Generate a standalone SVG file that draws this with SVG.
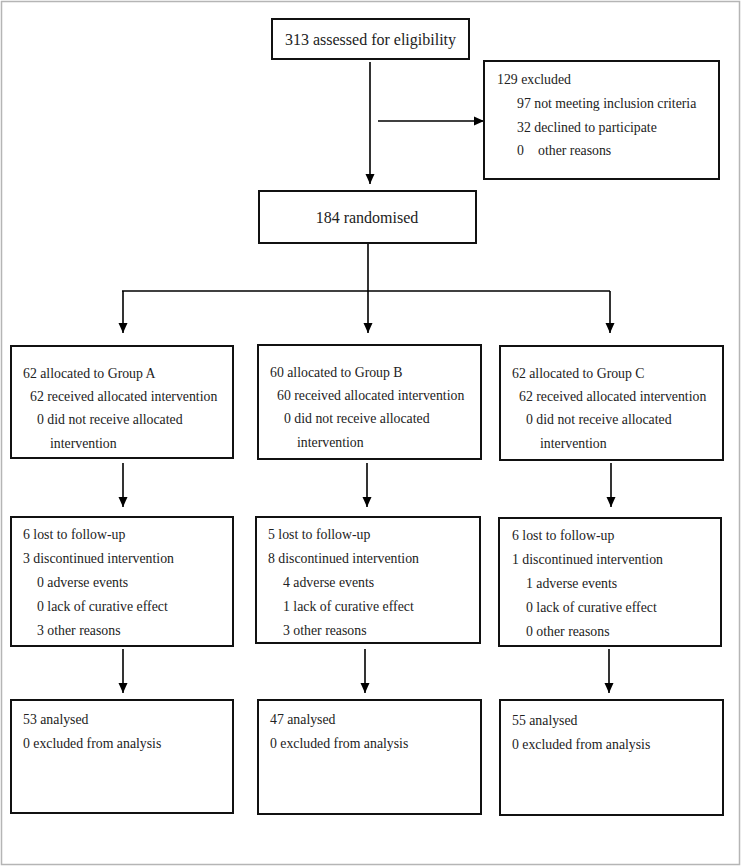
<svg xmlns="http://www.w3.org/2000/svg" width="741" height="867" viewBox="0 0 741 867">
<defs>
<marker id="ah" markerUnits="userSpaceOnUse" markerWidth="10" markerHeight="10" refX="10" refY="5" orient="auto">
<path d="M0,0.5 L10,5 L0,9.5 z" fill="#000"/>
</marker>
<style>
.box{fill:#fff;stroke:#111;stroke-width:2}
.t{font-family:"Liberation Serif","Times New Roman",serif;font-size:13.8px;fill:#222}
.big{font-size:16px}
.c{stroke:#000;stroke-width:1.6;fill:none}
.a{marker-end:url(#ah)}
</style>
</defs>
<rect x="1.5" y="1.5" width="738" height="863" fill="#fff" stroke="#b5b5b5" stroke-width="1.5"/>
<g id="connectors">
<line class="c a" x1="370" y1="62" x2="370" y2="184"/>
<line class="c a" x1="378" y1="121" x2="484" y2="121"/>
<line class="c" x1="368" y1="244" x2="368" y2="291"/>
<line class="c" x1="122" y1="291" x2="610" y2="291"/>
<line class="c a" x1="123" y1="291" x2="123" y2="333"/>
<line class="c a" x1="368" y1="291" x2="368" y2="333"/>
<line class="c a" x1="610" y1="291" x2="610" y2="333"/>
<line class="c a" x1="123" y1="463" x2="123" y2="507"/>
<line class="c a" x1="367" y1="463" x2="367" y2="507"/>
<line class="c a" x1="611" y1="463" x2="611" y2="507"/>
<line class="c a" x1="123" y1="649" x2="123" y2="693"/>
<line class="c a" x1="365" y1="649" x2="365" y2="693"/>
<line class="c a" x1="609" y1="649" x2="609" y2="693"/>
</g>
<g id="assessed">
<rect class="box" x="272" y="19" width="197" height="40"/>
<text class="t big" x="370.5" y="45" text-anchor="middle">313 assessed for eligibility</text>
</g>
<g id="excluded">
<rect class="box" x="484" y="61" width="235" height="118"/>
<text class="t" x="497" y="84">129 excluded</text>
<text class="t" x="517" y="108">97 not meeting inclusion criteria</text>
<text class="t" x="517" y="132">32 declined to participate</text>
<text class="t" x="517" y="155">0</text>
<text class="t" x="538" y="155">other reasons</text>
</g>
<g id="randomised">
<rect class="box" x="259" y="191" width="217" height="52"/>
<text class="t big" x="367" y="223" text-anchor="middle">184 randomised</text>
</g>
<g id="allocA">
<rect class="box" x="11" y="346" width="222" height="112"/>
<text class="t" x="23" y="378">62 allocated to Group A</text>
<text class="t" x="30" y="401">62 received allocated intervention</text>
<text class="t" x="37" y="424">0 did not receive allocated</text>
<text class="t" x="50" y="448">intervention</text>
</g>
<g id="allocB">
<rect class="box" x="258" y="345" width="223" height="114"/>
<text class="t" x="270" y="377">60 allocated to Group B</text>
<text class="t" x="277" y="400">60 received allocated intervention</text>
<text class="t" x="284" y="423">0 did not receive allocated</text>
<text class="t" x="297" y="447">intervention</text>
</g>
<g id="allocC">
<rect class="box" x="500" y="346" width="223" height="114"/>
<text class="t" x="512" y="378">62 allocated to Group C</text>
<text class="t" x="519" y="401">62 received allocated intervention</text>
<text class="t" x="526" y="424">0 did not receive allocated</text>
<text class="t" x="540" y="448">intervention</text>
</g>
<g id="followA">
<rect class="box" x="11" y="517" width="222" height="129"/>
<text class="t" x="23" y="539">6 lost to follow-up</text>
<text class="t" x="23" y="563">3 discontinued intervention</text>
<text class="t" x="37" y="587">0 adverse events</text>
<text class="t" x="37" y="611">0 lack of curative effect</text>
<text class="t" x="37" y="635">3 other reasons</text>
</g>
<g id="followB">
<rect class="box" x="256" y="517" width="224" height="126"/>
<text class="t" x="268" y="539">5 lost to follow-up</text>
<text class="t" x="268" y="563">8 discontinued intervention</text>
<text class="t" x="283" y="587">4 adverse events</text>
<text class="t" x="283" y="611">1 lack of curative effect</text>
<text class="t" x="283" y="635">3 other reasons</text>
</g>
<g id="followC">
<rect class="box" x="499" y="518" width="222" height="128"/>
<text class="t" x="512" y="540">6 lost to follow-up</text>
<text class="t" x="512" y="564">1 discontinued intervention</text>
<text class="t" x="526" y="588">1 adverse events</text>
<text class="t" x="526" y="612">0 lack of curative effect</text>
<text class="t" x="526" y="636">0 other reasons</text>
</g>
<g id="analysedA">
<rect class="box" x="11" y="700" width="222" height="113"/>
<text class="t" x="23" y="724">53 analysed</text>
<text class="t" x="23" y="748">0 excluded from analysis</text>
</g>
<g id="analysedB">
<rect class="box" x="258" y="700" width="223" height="114"/>
<text class="t" x="270" y="724">47 analysed</text>
<text class="t" x="270" y="748">0 excluded from analysis</text>
</g>
<g id="analysedC">
<rect class="box" x="500" y="700" width="223" height="115"/>
<text class="t" x="512" y="725">55 analysed</text>
<text class="t" x="512" y="749">0 excluded from analysis</text>
</g>
</svg>
